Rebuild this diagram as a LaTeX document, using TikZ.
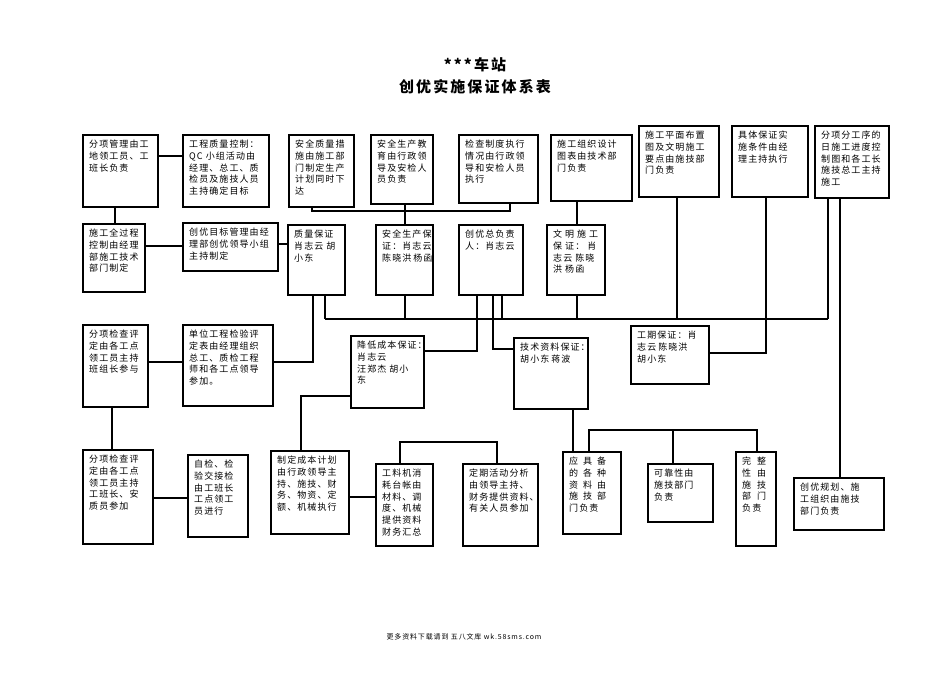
\documentclass[tikz,border=0pt]{standalone}
\usepackage{fontspec}
\newfontfamily\cjk{Noto Sans CJK SC}[LetterSpace=12]
\newfontfamily\cjkt{Noto Sans CJK SC}[LetterSpace=14]
\newcommand\gp[1]{\hspace*{#1pt}}
\tikzset{
  x=1pt, y=-1pt,
  boxst/.style={draw, line width=1.6pt, inner sep=0pt, anchor=north west},
  txtst/.style={inner sep=0pt, anchor=north west, align=left, font=\cjk\fontsize{9}{11.7}\selectfont},
  ln/.style={line width=1.3pt},
}
\newcommand\mybox[6]{%
  \node[boxst, minimum width={(#4-#2)*1pt}, minimum height={(#5-#3)*1pt}] (#1) at (#2,#3) {};
  \node[txtst] (#1t) at ([xshift=7pt,yshift=-6pt]#1.north west) {#6};}
\begin{document}
\begin{tikzpicture}
\fill[white] (0,0) rectangle (950,672);
\useasboundingbox (0,0) rectangle (950,672);
% title
\node[font=\cjkt\bfseries\fontsize{15}{18}\selectfont, inner sep=0pt] (t1) at (475,65) {***车站};
\node[font=\cjkt\bfseries\fontsize{15}{18}\selectfont, inner sep=0pt] (t2) at (475,87) {创优实施保证体系表};
% row A
\mybox{A1}{82}{134}{157}{206}{分项管理由工\\地领工员、工\\班长负责}
\mybox{A2}{182}{134}{268}{206}{工程质量控制：\\QC 小组活动由\\经理、总工、质\\检员及施技人员\\主持确定目标}
\mybox{A3}{288}{134}{353}{206}{安全质量措\\施由施工部\\门制定生产\\计划同时下\\达}
\mybox{A4}{370}{134}{432}{203}{安全生产教\\育由行政领\\导及安检人\\员负责}
\mybox{A5}{458}{134}{537}{202}{检查制度执行\\情况由行政领\\导和安检人员\\执行}
\mybox{A6}{550}{134}{631}{200}{施工组织设计\\图表由技术部\\门负责}
\mybox{A7}{638}{125}{718}{196}{施工平面布置\\图及文明施工\\要点由施技部\\门负责}
\mybox{A8}{731}{125}{807}{196}{具体保证实\\施条件由经\\理主持执行}
\mybox{A9}{814}{125}{888}{197}{分项分工序的\\日施工进度控\\制图和各工长\\施技总工主持\\施工}
% row B
\mybox{B1}{82}{223}{144}{291}{施工全过程\\控制由经理\\部施工技术\\部门制定}
\mybox{B2}{182}{222}{277}{270}{创优目标管理由经\\理部创优领导小组\\主持制定}
\mybox{B3}{287}{224}{344}{294}{质量保证\\肖志云\gp{3}胡\\小东}
\mybox{B4}{375}{224}{432}{294}{安全生产保\\证：肖志云\\陈晓洪\gp{2}杨函}
\mybox{B5}{458}{224}{522}{294}{创优总负责\\人：肖志云}
\mybox{B6}{546}{224}{604}{294}{文\gp{3}明\gp{3}施\gp{3}工\\保\gp{3}证：\gp{3}肖\\志云\gp{3}陈晓\\洪\gp{3}杨函}
% row C
\mybox{C1}{82}{324}{147}{406}{分项检查评\\定由各工点\\领工员主持\\班组长参与}
\mybox{C2}{182}{324}{272}{405}{单位工程检验评\\定表由经理组织\\总工、质检工程\\师和各工点领导\\参加。}
\mybox{C3}{350}{335}{423}{407}{降低成本保证：\\肖志云\\汪郑杰\gp{3}胡小\\东}
\mybox{C4}{513}{337}{587}{408}{技术资料保证：\\胡小东\gp{2}蒋波}
\mybox{C5}{630}{325}{708}{383}{工期保证：肖\\志云\gp{2}陈晓洪\\胡小东}
% row D
\mybox{D1}{82}{449}{152}{543}{分项检查评\\定由各工点\\领工员主持\\工班长、安\\质员参加}
\mybox{D2}{187}{454}{247}{536}{自检、检\\验交接检\\由工班长\\工点领工\\员进行}
\mybox{D3}{270}{450}{348}{533}{制定成本计划\\由行政领导主\\持、施技、财\\务、物资、定\\额、机械执行}
\mybox{D4}{375}{463}{432}{545}{工料机消\\耗台帐由\\材料、调\\度、机械\\提供资料\\财务汇总}
\mybox{D5}{462}{463}{537}{545}{定期活动分析\\由领导主持、\\财务提供资料、\\有关人员参加}
\mybox{D6}{562}{451}{620}{533}{应\gp{5}具\gp{5}备\\的\gp{5}各\gp{5}种\\资\gp{5}料\gp{5}由\\施\gp{5}技\gp{5}部\\门负责}
\mybox{D7}{647}{463}{712}{521}{可靠性由\\施技部门\\负责}
\mybox{D8}{735}{451}{775}{545}{完\gp{6}整\\性\gp{6}由\\施\gp{6}技\\部\gp{6}门\\负责}
\mybox{D9}{793}{477}{883}{529}{创优规划、施\\工组织由施技\\部门负责}
% junctions
\coordinate (jA3) at (312,211);
\coordinate (jA5) at (510,211);
\coordinate (busL) at (325,319);
\coordinate (busR) at (828,319);
% connectors row A
\draw[ln] (A1.east |- 0,156) -- (A2.west |- 0,156);
\draw[ln] (A1.south -| 115,0) -- (B1.north -| 115,0);
\draw[ln] (A3.south -| jA3) -- (jA3) -- (jA5) -- (A5.south -| jA5);
\draw[ln] (A4.south -| 405,0) -- (B4.north -| 405,0);
\draw[ln] (A6.south -| 577,0) -- (B6.north -| 577,0);
\draw[ln] (A7.south -| 677,0) -- (677,319);
\draw[ln] (A8.south -| 766,0) -- (766,353) -- (C5.east |- 0,353);
\draw[ln] (A9.south -| busR) -- (busR);
\draw[ln] (A9.south -| 840,0) -- (D9.north -| 840,0);
\draw[ln] (busL) -- (busR);
% row B
\draw[ln] (B1.east |- 0,246) -- (B2.west |- 0,246);
\draw[ln] (B2.east |- 0,244) -- (B3.west |- 0,244);
\draw[ln] (B3.south -| 313,0) -- (313,362) -- (C2.east |- 0,362);
\draw[ln] (B3.south -| busL) -- (busL);
\draw[ln] (B4.south -| 405,0) -- (405,319);
\draw[ln] (B5.south -| 477,0) -- (477,351) -- (C3.east |- 0,351);
\draw[ln] (B5.south -| 493,0) -- (493,349) -- (C4.west |- 0,349);
\draw[ln] (B5.south -| 502,0) -- (502,319);
\draw[ln] (B6.south -| 577,0) -- (577,319);
% row C
\draw[ln] (C1.east |- 0,362) -- (C2.west |- 0,362);
\draw[ln] (C1.south -| 112,0) -- (D1.north -| 112,0);
\draw[ln] (C3.west |- 0,396) -- (301,396) -- (D3.north -| 301,0);
\draw[ln] (C4.south -| 573,0) -- (D6.north -| 573,0);
\draw[ln] (D6.north -| 589,0) -- (589,430) -- (757,430) -- (D8.north -| 757,0);
\draw[ln] (673,430) -- (D7.north -| 673,0);
% row D
\draw[ln] (D1.east |- 0,498) -- (D2.west |- 0,498);
\draw[ln] (D3.east |- 0,497) -- (D4.west |- 0,497);
\draw[ln] (D4.north -| 400,0) -- (400,442) -- (497,442) -- (D5.north -| 497,0);
% footer
\node[font=\cjk\fontsize{7}{8}\selectfont, inner sep=0pt] (ft) at (464,637) {更多资料下载请到 五八文库 wk.58sms.com};
\end{tikzpicture}
\end{document}
